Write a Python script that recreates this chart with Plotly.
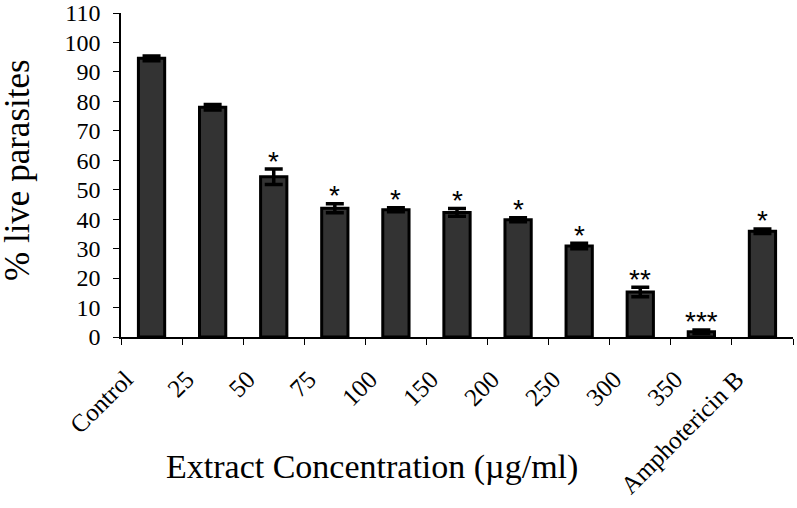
import plotly.graph_objects as go

categories = ["Control", "25", "50", "75", "100", "150", "200", "250", "300", "350", "Amphotericin B"]
live = [94.6, 78.0, 54.4, 43.7, 43.2, 42.3, 39.8, 30.9, 15.3, 1.8, 35.9]
err = [0.8, 0.9, 2.6, 1.5, 0.7, 1.3, 0.7, 0.9, 1.6, 0.6, 0.8]
sig = ["", "", "*", "*", "*", "*", "*", "*", "**", "***", "*"]

serif = "Liberation Serif, Times New Roman, serif"

fig = go.Figure()
fig.add_trace(go.Bar(
    x=categories, y=live,
    marker=dict(color="#333333", line=dict(color="black", width=3)),
    error_y=dict(type="data", array=err, color="black", thickness=3.5, width=9),
    showlegend=False,
))

# significance stars above the error bars (x given as category index)
for i, (v, e, s) in enumerate(zip(live, err, sig)):
    if s:
        fig.add_annotation(x=i, y=v + e, text=s, showarrow=False,
                           yanchor="middle", yshift=8,
                           font=dict(family="Liberation Sans, Arial", size=28, color="black"))

fig.add_annotation(xref="paper", yref="paper", x=-0.155, y=0.515,
                   text="% live parasites", textangle=-90, showarrow=False,
                   xanchor="center", yanchor="middle",
                   font=dict(family=serif, size=35, color="black"))
fig.add_annotation(xref="paper", yref="paper", x=0.373, y=-0.402,
                   text="Extract Concentration (µg/ml)", showarrow=False,
                   xanchor="center", yanchor="middle",
                   font=dict(family=serif, size=34, color="black"))

fig.update_layout(
    width=797, height=508,
    margin=dict(l=121, r=4, t=13, b=171),
    plot_bgcolor="white", paper_bgcolor="white",
    bargap=0.57,
    font=dict(family=serif, size=24, color="black"),
)
fig.update_xaxes(type="category", range=[-0.5, 10.5], tickson="boundaries",
                 ticks="outside", ticklen=6, tickcolor="black",
                 showline=True, linecolor="black", linewidth=1.5,
                 tickangle=-45, ticklabelshift=-26, ticklabelstandoff=16,
                 showgrid=False, automargin=False,
                 tickfont=dict(family=serif, size=25, color="black"))
fig.update_yaxes(range=[0, 110], dtick=10, ticks="outside", ticklen=6, tickcolor="black",
                 showline=True, linecolor="black", linewidth=1.5, showgrid=False,
                 zeroline=False, automargin=False, ticklabelstandoff=8,
                 ticklabeloverflow="allow",
                 tickfont=dict(family=serif, size=24, color="black"))

# drop the default 8px body margin so the figure fills the window exactly
fig.write_html("out.html", config={"displayModeBar": False},
               post_script="document.body.style.margin = '0';")
